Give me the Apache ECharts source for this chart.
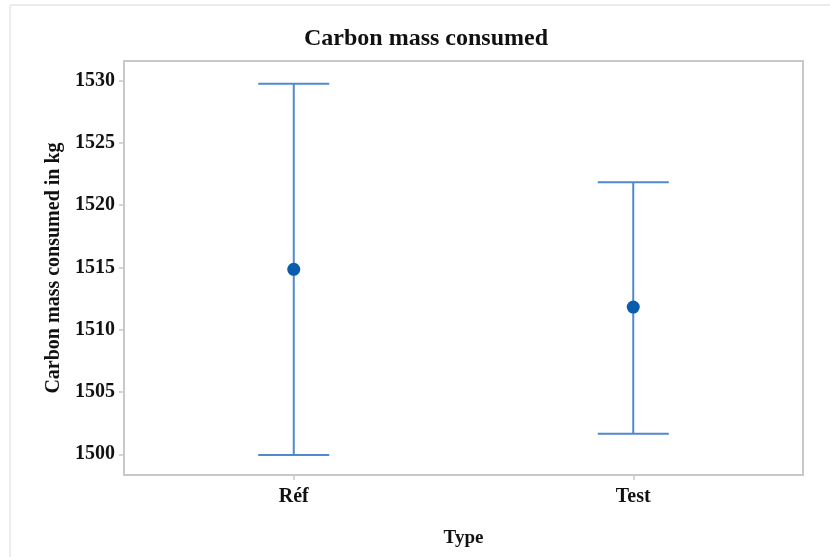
<!DOCTYPE html>
<html>
<head>
<meta charset="utf-8">
<script src="https://cdn.jsdelivr.net/npm/echarts@6/dist/echarts.min.js"></script>
<style>
  html, body { margin: 0; padding: 0; background: #fff; }
  #chart { width: 830px; height: 557px; }
</style>
</head>
<body>
<div id="chart"></div>
<script>
// Interval plot data: mean with lower / upper bounds per type
const categories = ['Réf', 'Test'];
const means = [1514.85, 1511.82];
const lowers = [1499.95, 1501.65];
const uppers = [1529.75, 1521.85];
const yTicks = [1500, 1505, 1510, 1515, 1520, 1525, 1530];

const FONT = '"Liberation Serif", "Times New Roman", serif';
const LINE = '#5089cd';
const DOT = '#0b5cad';
const FRAME = '#c8c8c8';

const chart = echarts.init(document.getElementById('chart'));

const barData = categories.map((c, i) => [i, lowers[i], uppers[i]]);
const meanData = categories.map((c, i) => [i, means[i]]);

chart.setOption({
  animation: false,
  backgroundColor: '#fff',
  graphic: [
    { type: 'line', shape: { x1: 10, y1: 5, x2: 830, y2: 5 }, style: { stroke: '#e6e6e6', lineWidth: 1.5 } },
    { type: 'line', shape: { x1: 10, y1: 5, x2: 10, y2: 557 }, style: { stroke: '#e6e6e6', lineWidth: 1.5 } }
  ],
  title: {
    text: 'Carbon mass consumed',
    left: 299, top: 22,
    textStyle: { fontFamily: FONT, fontSize: 24, fontWeight: 'bold', color: '#111' }
  },
  grid: {
    left: 124, right: 27, top: 61, bottom: 82,
    show: true, borderColor: FRAME, borderWidth: 2, backgroundColor: '#fff'
  },
  xAxis: {
    type: 'category',
    data: categories,
    name: 'Type',
    nameLocation: 'middle',
    nameGap: 54,
    nameTextStyle: { fontFamily: FONT, fontSize: 19, fontWeight: 'bold', color: '#111' },
    axisLine: { show: false },
    axisTick: { show: true, alignWithLabel: true, length: 5, lineStyle: { color: FRAME, width: 1.5 } },
    axisLabel: { fontFamily: FONT, fontSize: 20, fontWeight: 'bold', color: '#111', margin: 12 },
    splitLine: { show: false }
  },
  yAxis: {
    type: 'value',
    min: 1498.34,
    max: 1531.58,
    name: 'Carbon mass consumed in kg',
    nameLocation: 'middle',
    nameGap: 60,
    nameTextStyle: { fontFamily: FONT, fontSize: 20, fontWeight: 'bold', color: '#111' },
    axisLine: { show: false },
    axisTick: { show: true, length: 5, customValues: yTicks, lineStyle: { color: FRAME, width: 1.5 } },
    axisLabel: {
      customValues: yTicks,
      formatter: v => String(v),
      fontFamily: FONT, fontSize: 20, fontWeight: 'bold', color: '#111', margin: 9
    },
    splitLine: { show: false }
  },
  series: [
    {
      type: 'custom',
      data: barData,
      encode: { x: 0, y: [1, 2] },
      renderItem: function (params, api) {
        const x = api.value(0);
        const lo = api.coord([x, api.value(1)]);
        const hi = api.coord([x, api.value(2)]);
        const half = 35.5;
        const style = { stroke: LINE, lineWidth: 2, fill: null };
        return {
          type: 'group',
          children: [
            { type: 'line', shape: { x1: lo[0], y1: lo[1], x2: hi[0], y2: hi[1] }, style: style },
            { type: 'line', shape: { x1: hi[0] - half, y1: hi[1], x2: hi[0] + half, y2: hi[1] }, style: style },
            { type: 'line', shape: { x1: lo[0] - half, y1: lo[1], x2: lo[0] + half, y2: lo[1] }, style: style }
          ]
        };
      },
      z: 2
    },
    {
      type: 'scatter',
      data: meanData,
      symbol: 'circle',
      symbolSize: 13,
      itemStyle: { color: DOT, opacity: 1 },
      z: 3
    }
  ]
});
</script>
</body>
</html>
